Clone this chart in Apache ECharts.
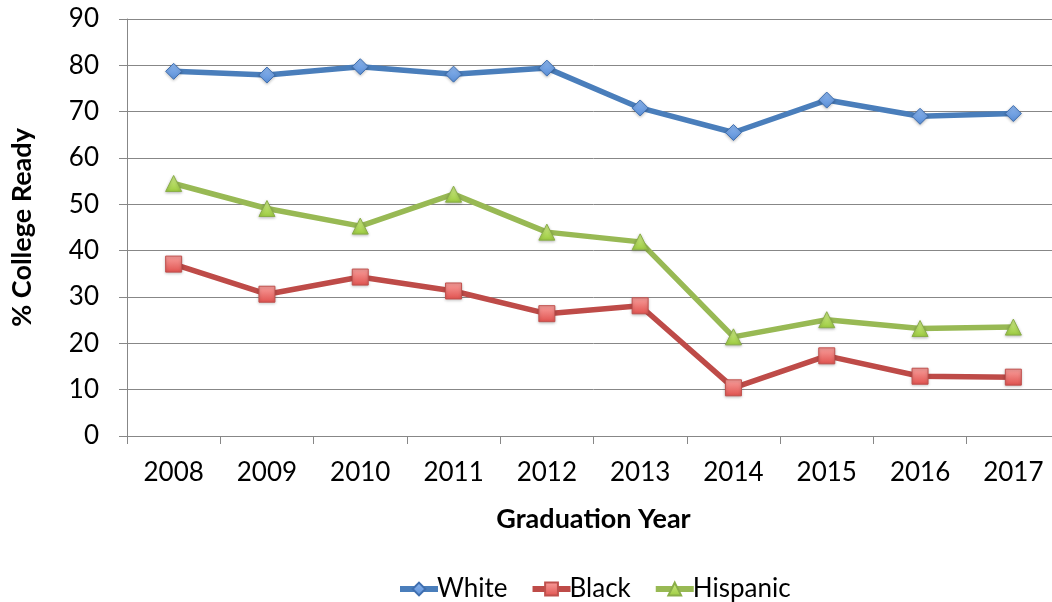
<!DOCTYPE html>
<html>
<head>
<meta charset="utf-8">
<script src="https://cdn.jsdelivr.net/npm/echarts@6/dist/echarts.min.js"></script>
<style>
  html, body { margin: 0; padding: 0; background: #fff; overflow: hidden; }
  /* the plot runs a little past the right edge of the picture, so the canvas is wider than the window */
  #chart { width: 1070px; height: 602px; }
</style>
</head>
<body>
<div id="chart"></div>
<script>
const years = ['2008', '2009', '2010', '2011', '2012', '2013', '2014', '2015', '2016', '2017'];
const white = [78.7, 77.9, 79.7, 78.1, 79.4, 70.8, 65.5, 72.5, 69.0, 69.6];
const black = [37.1, 30.6, 34.3, 31.3, 26.4, 28.1, 10.4, 17.3, 12.9, 12.7];
const hispanic = [54.5, 49.1, 45.3, 52.2, 44.0, 41.9, 21.4, 25.1, 23.2, 23.5];

const font = 'Lato, "Noto Sans", sans-serif';
const gridGray = '#878787';

// one helper so the three series share line and marker settings
function lineSeries(name, data, symbol, size, lineColor, fill, border) {
  return {
    name: name,
    type: 'line',
    data: data,
    symbol: symbol,
    symbolSize: size,
    lineStyle: { color: lineColor, width: 5.5 },
    itemStyle: {
      color: new echarts.graphic.LinearGradient(0, 0, 0, 1, [
        { offset: 0, color: fill[0] },
        { offset: 1, color: fill[1] },
      ]),
      borderColor: border,
      borderWidth: 1,
      shadowColor: 'rgba(0,0,0,0.25)',
      shadowBlur: 3,
      shadowOffsetY: 1,
    },
    emphasis: { disabled: true },
  };
}

const chart = echarts.init(document.getElementById('chart'));

chart.setOption({
  animation: false,
  backgroundColor: '#fff',
  grid: { left: 127, top: 19, width: 933, height: 417 },
  legend: {
    left: 392,
    top: 571,
    itemWidth: 38,
    itemHeight: 16,
    itemGap: 22,
    lineStyle: { width: 6 },
    textStyle: { fontFamily: font, fontSize: 26, color: '#000', padding: [0, 0, 0, -6] },
    data: ['White', 'Black', 'Hispanic'],
  },
  xAxis: {
    type: 'category',
    data: years,
    boundaryGap: true,
    name: 'Graduation Year',
    nameLocation: 'middle',
    nameGap: 70,
    nameTextStyle: { fontFamily: font, fontSize: 27, fontWeight: 'bold', color: '#000' },
    axisLine: { lineStyle: { color: gridGray, width: 1 } },
    axisTick: { show: true, length: 8, interval: 0, lineStyle: { color: gridGray } },
    axisLabel: { fontFamily: font, fontSize: 26, color: '#000', margin: 24, interval: 0 },
    splitLine: { show: false },
  },
  yAxis: {
    type: 'value',
    min: 0,
    max: 90,
    interval: 10,
    name: '% College Ready',
    nameLocation: 'middle',
    nameGap: 91,
    nameTextStyle: { fontFamily: font, fontSize: 27, fontWeight: 'bold', color: '#000' },
    axisLine: { show: true, lineStyle: { color: gridGray, width: 1 } },
    axisTick: { show: true, length: 8, lineStyle: { color: gridGray } },
    axisLabel: { fontFamily: font, fontSize: 26, color: '#000', margin: 28 },
    splitLine: { show: true, lineStyle: { color: gridGray, width: 1 } },
  },
  series: [
    lineSeries('White', white, 'diamond', 16, '#4A7EBB', ['#8DB6EE', '#5A8FD8'], '#3F6FB0'),
    lineSeries('Black', black, 'rect', 16, '#BE4B48', ['#F9A09D', '#E0524F'], '#C0504D'),
    lineSeries('Hispanic', hispanic, 'triangle', 16, '#98B954', ['#D2EE8C', '#9CCB3F'], '#8AAE48'),
  ],
});
</script>
</body>
</html>
